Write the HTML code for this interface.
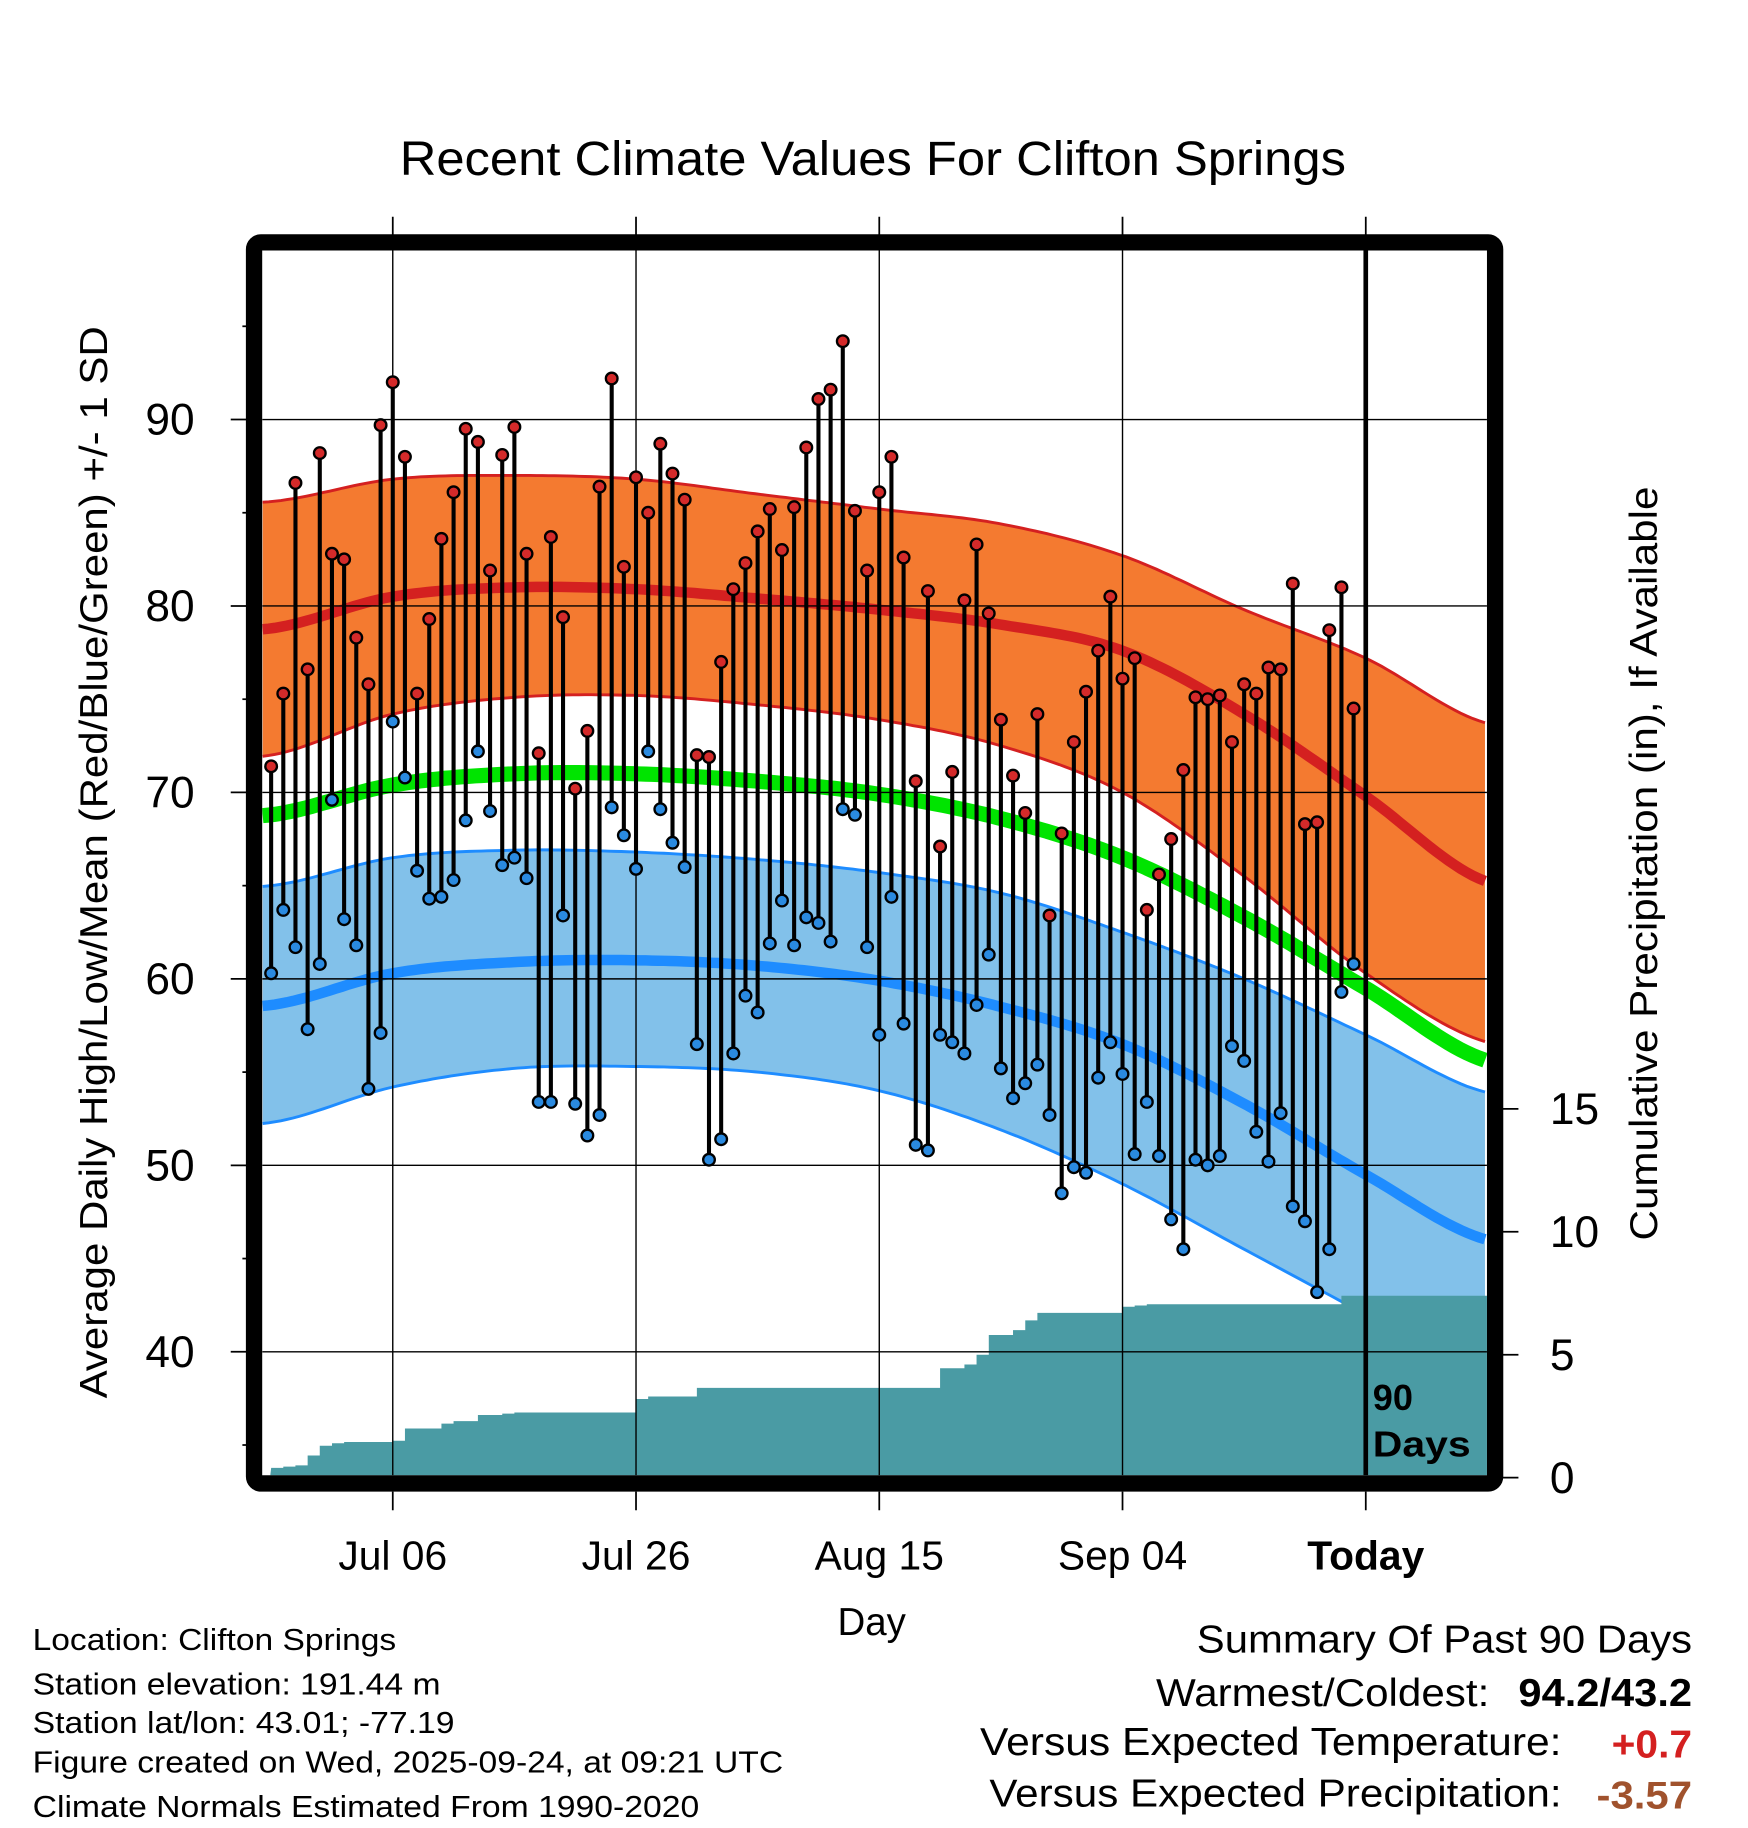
<!DOCTYPE html>
<html><head><meta charset="utf-8"><style>
html,body{margin:0;padding:0;background:#fff}
svg{display:block}
text{font-family:"Liberation Sans",sans-serif}
</style></head><body>
<svg id="chart" width="1748" height="1828" viewBox="0 0 1500 1568.65" xmlns="http://www.w3.org/2000/svg">
<text x="749" y="150" font-size="41" text-anchor="middle" textLength="812" lengthAdjust="spacingAndGlyphs">Recent Climate Values For Clifton Springs</text>
<g id="plot"></g>
<text transform="translate(92,740) rotate(-90)" font-size="33" text-anchor="middle" textLength="920" lengthAdjust="spacingAndGlyphs">Average Daily High/Low/Mean (Red/Blue/Green) +/- 1 SD</text>
<text transform="translate(1422,741) rotate(-90)" font-size="33" text-anchor="middle" textLength="647" lengthAdjust="spacingAndGlyphs">Cumulative Precipitation (in), If Available</text>
<text x="748" y="1403" font-size="33" text-anchor="middle">Day</text>
<g font-size="26">
<text x="28" y="1416" textLength="312" lengthAdjust="spacingAndGlyphs">Location: Clifton Springs</text>
<text x="28" y="1454" textLength="350" lengthAdjust="spacingAndGlyphs">Station elevation: 191.44 m</text>
<text x="28" y="1487" textLength="362" lengthAdjust="spacingAndGlyphs">Station lat/lon: 43.01; -77.19</text>
<text x="28" y="1521" textLength="644" lengthAdjust="spacingAndGlyphs">Figure created on Wed, 2025-09-24, at 09:21 UTC</text>
<text x="28" y="1559" textLength="572" lengthAdjust="spacingAndGlyphs">Climate Normals Estimated From 1990-2020</text>
</g>
<g font-size="33">
<text x="1027" y="1418" textLength="425" lengthAdjust="spacingAndGlyphs">Summary Of Past 90 Days</text>
<text x="992" y="1464" textLength="286" lengthAdjust="spacingAndGlyphs">Warmest/Coldest:</text>
<text x="1303" y="1464" font-weight="bold" textLength="149" lengthAdjust="spacingAndGlyphs">94.2/43.2</text>
<text x="841" y="1506" textLength="499" lengthAdjust="spacingAndGlyphs">Versus Expected Temperature:</text>
<text x="1383" y="1508" font-weight="bold" fill="#d42020" textLength="69" lengthAdjust="spacingAndGlyphs">+0.7</text>
<text x="849" y="1550" textLength="491" lengthAdjust="spacingAndGlyphs">Versus Expected Precipitation:</text>
<text x="1370" y="1552" font-weight="bold" fill="#a0522d" textLength="82" lengthAdjust="spacingAndGlyphs">-3.57</text>
</g>
</svg>
<script>
const highs=[71.4,75.3,86.6,76.6,88.2,82.8,82.5,78.3,75.8,89.7,92.0,88.0,75.3,79.3,83.6,86.1,89.5,88.8,81.9,88.1,89.6,82.8,72.1,83.7,79.4,70.2,73.3,86.4,92.2,82.1,86.9,85.0,88.7,87.1,85.7,72.0,71.9,77.0,80.9,82.3,84.0,85.2,83.0,85.3,88.5,91.1,91.6,94.2,85.1,81.9,86.1,88.0,82.6,70.6,80.8,67.1,71.1,80.3,83.3,79.6,73.9,70.9,68.9,74.2,63.4,67.8,72.7,75.4,77.6,80.5,76.1,77.2,63.7,65.6,67.5,71.2,75.1,75.0,75.2,72.7,75.8,75.3,76.7,76.6,81.2,68.3,68.4,78.7,81.0,74.5];
const lows=[60.3,63.7,61.7,57.3,60.8,69.6,63.2,61.8,54.1,57.1,73.8,70.8,65.8,64.3,64.4,65.3,68.5,72.2,69.0,66.1,66.5,65.4,53.4,53.4,63.4,53.3,51.6,52.7,69.2,67.7,65.9,72.2,69.1,67.3,66.0,56.5,50.3,51.4,56.0,59.1,58.2,61.9,64.2,61.8,63.3,63.0,62.0,69.1,68.8,61.7,57.0,64.4,57.6,51.1,50.8,57.0,56.6,56.0,58.6,61.3,55.2,53.6,54.4,55.4,52.7,48.5,49.9,49.6,54.7,56.6,54.9,50.6,53.4,50.5,47.1,45.5,50.3,50.0,50.5,56.4,55.6,51.8,50.2,52.8,47.8,47.0,43.2,45.5,59.3,60.8];
const precip=[0.4,0.45,0.5,0.9,1.3,1.4,1.45,1.45,1.45,1.45,1.5,2.0,2.0,2.0,2.2,2.3,2.3,2.55,2.55,2.6,2.65,2.65,2.65,2.65,2.65,2.65,2.65,2.65,2.65,2.65,3.2,3.3,3.3,3.3,3.3,3.65,3.65,3.65,3.65,3.65,3.65,3.65,3.65,3.65,3.65,3.65,3.65,3.65,3.65,3.65,3.65,3.65,3.65,3.65,3.65,4.45,4.45,4.6,5.0,5.8,5.8,6.0,6.4,6.7,6.7,6.7,6.7,6.7,6.7,6.7,6.95,7.0,7.05,7.05,7.05,7.05,7.05,7.05,7.05,7.05,7.05,7.05,7.05,7.05,7.05,7.05,7.05,7.05,7.4,7.4];
const normDays=[-90,-80,-70,-60,-50,-40,-30,-20,-10,0,10];
const highUpper=[85.6,86.8,87.0,86.8,86.0,85.2,84.4,82.7,79.8,77.2,73.7];
const highMean=[78.8,80.5,81.0,80.9,80.4,79.8,79.0,77.6,74.2,69.8,65.2];
const highLower=[72.0,74.2,75.1,75.2,74.7,73.9,72.5,70.0,65.5,60.3,56.6];
const meanNorm=[68.8,70.4,71.0,71.0,70.6,69.9,68.6,66.5,63.3,59.5,55.6];
const lowUpper=[65.0,66.5,66.9,66.8,66.4,65.7,64.6,62.5,60.0,57.0,53.9];
const lowMean=[58.6,60.3,60.9,61.0,60.7,59.9,58.5,56.5,53.3,49.5,46.0];
const lowLower=[52.3,54.2,55.2,55.3,55.0,54.0,51.9,49.0,45.5,42.0,38.5];
const yTicks=[40,50,60,70,80,90];
const pTicks=[0,5,10,15];
const xTickDays=[-80,-60,-40,-20,0];
const xTickLabels=["Jul 06","Jul 26","Aug 15","Sep 04","Today"];

const L=225,R=1276,T=215,B=1266;
const xS=d=>1172+d*10.437;
const yS=v=>360+(90-v)*16;
const pS=v=>1268-v*21.1;
const NS="http://www.w3.org/2000/svg";
const g=document.getElementById('plot');
function mk(tag,attrs,parent){const e=document.createElementNS(NS,tag);for(const k in attrs)e.setAttribute(k,attrs[k]);(parent||g).appendChild(e);return e;}
function curve(arr){
  const pts=[];
  for(let d=-90.7;d<=10.05;d+=0.5){
    let i=Math.min(normDays.length-2,Math.max(0,Math.floor((d-normDays[0])/10)));
    const t=(d-normDays[i])/10;
    const p0=arr[Math.max(0,i-1)],p1=arr[i],p2=arr[i+1],p3=arr[Math.min(arr.length-1,i+2)];
    const v=0.5*((2*p1)+(-p0+p2)*t+(2*p0-5*p1+4*p2-p3)*t*t+(-p0+3*p1-3*p2+p3)*t*t*t);
    pts.push([Math.min(R,Math.max(L,xS(d))),yS(v)]);
  }
  return pts;
}
const ps=p=>p.map(q=>q[0].toFixed(1)+','+q[1].toFixed(1)).join(' ');
mk('clipPath',{id:'clip'});
mk('rect',{x:L,y:T,width:R-L,height:B-T},document.getElementById('clip'));
const cg=mk('g',{'clip-path':'url(#clip)'});


function band(up,lo,fill,edge,name){
  const a=curve(up),b=curve(lo).reverse();
  const e=mk('polygon',{points:ps(a.concat(b)),fill:fill,stroke:'none'},cg);
  
  
  const e1=mk('polyline',{points:ps(a),fill:'none',stroke:edge,'stroke-width':2.5},cg);
  
  
  const e2=mk('polyline',{points:ps(curve(lo)),fill:'none',stroke:edge,'stroke-width':2.5},cg);
  
  
}
band(highUpper,highLower,'#f47a30','#d42020','high-sd-band');
band(lowUpper,lowLower,'#82c1ea','#1e8cff','low-sd-band');
function line(arr,col,w,name){const e=mk('polyline',{points:ps(curve(arr)),fill:'none',stroke:col,'stroke-width':w},cg);
  
  }
line(highMean,'#d42020',9,'normal-high-line');
line(meanNorm,'#00e400',13,'normal-mean-line');
line(lowMean,'#1e8cff',9,'normal-low-line');
let pp=[[xS(-90)-1,pS(0)]];
precip.forEach((v,i)=>{const d=-90+i;pp.push([xS(d),pS(v)]);pp.push([i==precip.length-1?R:xS(d+1),pS(v)]);});
pp.push([R,pS(0)]);
const pa=mk('polygon',{points:ps(pp),fill:'#4a9ba4'},cg);


yTicks.forEach(v=>{const e=mk('line',{x1:L,x2:R,y1:yS(v),y2:yS(v),stroke:'#000','stroke-width':1.2},cg);
  
  });
xTickDays.forEach((d,i)=>{const e=mk('line',{x1:xS(d),x2:xS(d),y1:T,y2:B,stroke:'#000','stroke-width':i==4?4:1.2},cg);
  
  });
highs.forEach((h,i)=>{const x=xS(-90+i);
  const s=mk('line',{x1:x,x2:x,y1:yS(h),y2:yS(lows[i]),stroke:'#000','stroke-width':3.5},cg);
  
  });
highs.forEach((h,i)=>{const x=xS(-90+i);
  const a=mk('circle',{cx:x,cy:yS(h),r:5,fill:'#d42a2a',stroke:'#000','stroke-width':2},cg);
  
  
  const b=mk('circle',{cx:x,cy:yS(lows[i]),r:5,fill:'#2a8ae0',stroke:'#000','stroke-width':2},cg);
  
  });
const t1=mk('text',{x:1178,y:1210,'font-size':31,'font-weight':'bold'},cg);t1.textContent='90';


const t2=mk('text',{x:1178,y:1250,'font-size':31,'font-weight':'bold',textLength:84,lengthAdjust:'spacingAndGlyphs'},cg);t2.textContent='Days';


const fr=mk('rect',{x:L-7,y:T-7,width:R-L+14,height:B-T+14,rx:6,fill:'none',stroke:'#000','stroke-width':14});


for(let v=35;v<=95;v+=5){const maj=v%10==0;
  const e=mk('line',{x1:maj?198:208,x2:218,y1:yS(v),y2:yS(v),stroke:'#000','stroke-width':1.5});
  
  }
yTicks.forEach(v=>{const e=mk('text',{x:167,y:yS(v)+13,'font-size':38,'text-anchor':'end'});e.textContent=v;
  
  });
pTicks.forEach(v=>{const e=mk('line',{x1:1283,x2:1303,y1:pS(v),y2:pS(v),stroke:'#000','stroke-width':1.5});
  
  
  const t=mk('text',{x:1330,y:pS(v)+13,'font-size':38});t.textContent=v;
  
  });
xTickDays.forEach((d,i)=>{
  const a=mk('line',{x1:xS(d),x2:xS(d),y1:186,y2:208,stroke:'#000','stroke-width':1.5});
  
  
  const b=mk('line',{x1:xS(d),x2:xS(d),y1:1280,y2:1296,stroke:'#000','stroke-width':1.5});
  
  
  const t=mk('text',{x:xS(d),y:1347,'font-size':35,'text-anchor':'middle'});t.textContent=xTickLabels[i];
  if(i==4)t.setAttribute('font-weight','bold');
  
  });
</script>
</body></html>
